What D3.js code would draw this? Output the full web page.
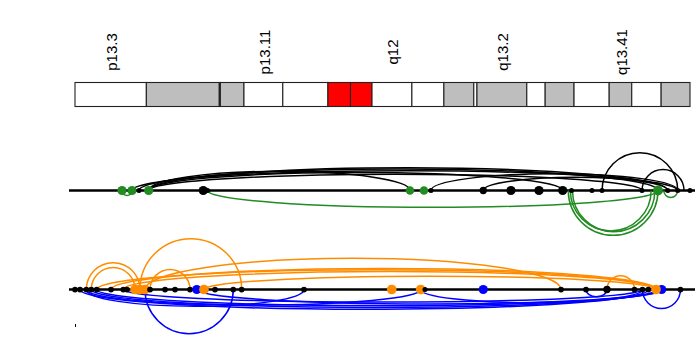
<!DOCTYPE html>
<html>
<head>
<meta charset="utf-8">
<script src="https://cdn.jsdelivr.net/npm/d3@7"></script>
<style>
  body { margin: 0; background: #fff; }
  text { font-family: "Liberation Sans", Arial, sans-serif; }
</style>
</head>
<body>
<svg id="chart" width="695" height="345"></svg>
<script>
// chr19 cytobands (Mb)
var bandNames = ['p13.3', 'p13.2', 'p13.13', 'p13.12', 'p13.11', 'p12', 'p11', 'q11', 'q12',
  'q13.11', 'q13.12', 'q13.13', 'q13.2', 'q13.31', 'q13.32', 'q13.33', 'q13.41', 'q13.42', 'q13.43'];
var bandEnds = [6.8, 13.75, 13.85, 16.1, 19.8, 24.1, 26.25, 28.3, 32.1,
  35.15, 38.0, 38.3, 43.05, 44.8, 47.55, 50.9, 53.05, 55.85, 58.6];
var bandStains = ['gneg', 'gpos', 'gneg', 'gpos', 'gneg', 'gneg', 'acen', 'acen', 'gneg',
  'gneg', 'gpos', 'gneg', 'gpos', 'gneg', 'gpos', 'gneg', 'gpos', 'gneg', 'gpos'];

// track 1 anchors
var track1Pos = [4.48, 5.43, 6.10, 7.02, 12.22, 12.63, 31.92, 33.25, 33.92, 38.90, 41.54,
  44.21, 46.47, 47.31, 49.26, 50.22, 54.03, 55.55, 56.48, 57.43, 58.6];
var track1Kind = ['g', 'g', 'k', 'g', 'k', 'k', 'g', 'g', 'k', 'k', 'k',
  'k', 'k', 'k', 'k', 'k', 'k', 'g', 'k', 'k', 'k'];
var track1Weight = [3, 3, 1.2, 3, 3, 1.2, 2.7, 2.7, 1.2, 2.2, 3,
  3, 3, 1.2, 1.2, 1.2, 1.2, 3.3, 1.2, 1.2, 1.2];

// track 1 loops: [start, end, strength]
var track1Above = [
  [7.02, 31.92, 0.32], [7.02, 46.47, 0.30], [6.10, 55.55, 0.36], [7.02, 56.48, 0.38],
  [5.43, 57.43, 0.33], [7.02, 54.03, 0.27], [33.92, 57.43, 0.28], [38.90, 56.48, 0.22],
  [50.22, 57.43, 1], [54.03, 58.03, 1]
];
var track1Below = [
  [4.48, 5.43, 1], [12.63, 55.55, 0.28], [47.0, 55.55, 1], [47.4, 55.25, 1],
  [47.2, 54.9, 1], [56.1, 57.43, 1]
];

// track 2 anchors
var track2Pos = [0.0, 0.48, 1.08, 1.55, 2.07, 3.43, 4.6, 4.95, 5.72, 6.19, 6.67, 7.15, 8.58,
  9.53, 10.96, 11.6, 12.29, 13.34, 15.08, 15.88, 21.82, 30.18, 32.94, 33.35, 38.9, 46.31,
  48.69, 50.69, 53.31, 54.07, 54.63, 55.9, 55.36, 57.69];
var track2Kind = ['k', 'k', 'k', 'k', 'k', 'k', 'k', 'k', 'o', 'o', 'o', 'k', 'k',
  'k', 'k', 'b', 'o', 'k', 'k', 'k', 'k', 'o', 'o', 'k', 'b', 'k',
  'k', 'k', 'k', 'k', 'k', 'b', 'o', 'k'];
var track2Weight = [1.5, 1.5, 1.5, 1.5, 1.5, 1.5, 1.5, 1.5, 3.2, 3.2, 3.2, 1.5, 1.5,
  1.5, 1.5, 3, 3.2, 1.5, 1.5, 1.5, 1.5, 3.2, 3.2, 1.2, 3, 1.5,
  1.5, 2.2, 1.5, 1.5, 1.5, 3, 3.2, 1.5];

var track2Above = [
  [1.08, 6.19, 1], [1.55, 5.72, 1], [6.19, 15.88, 1], [7.15, 10.96, 1],
  [6.67, 46.31, 0.52], [2.07, 55.36, 0.33], [3.43, 55.36, 0.35], [4.6, 55.36, 0.30],
  [12.29, 55.36, 0.22], [50.69, 53.31, 1]
];
var track2Below = [
  [6.67, 15.08, 1], [1.08, 21.82, 0.28], [1.08, 32.94, 0.26], [32.94, 54.07, 0.22],
  [0.48, 54.63, 0.33], [1.55, 55.36, 0.30], [2.07, 55.9, 0.27], [11.6, 55.9, 0.24],
  [4.6, 54.07, 0.21], [48.69, 50.69, 0.12], [54.07, 57.69, 1]
];

var svg = d3.select('#chart');
var x = d3.scaleLinear().domain([0, 58.6]).range([75, 690]);
var hScale = d3.scaleLinear().domain([0, 1]).range([0, 60]);
var rScale = d3.scaleLinear().domain([1, 3]).range([2.3, 4.6]);

var colors = { k: '#000000', g: '#228B22', o: '#FF8C00', b: '#0000FF' };
var stainFill = { gneg: '#FFFFFF', gpos: '#BEBEBE', acen: '#FF0000' };

function drawIdeogram() {
  var g = svg.append('g');
  var starts = [0].concat(bandEnds.slice(0, -1));

  g.selectAll('rect')
    .data(bandNames)
    .enter()
    .append('rect')
    .attr('x', function(d, i) { return x(starts[i]); })
    .attr('y', 82.5)
    .attr('width', function(d, i) { return x(bandEnds[i]) - x(starts[i]); })
    .attr('height', 24)
    .attr('fill', function(d, i) { return stainFill[bandStains[i]]; })
    .attr('stroke', '#222')
    .attr('stroke-width', 1.1);

  g.selectAll('text')
    .data(bandNames.filter(function(d, i) { return i % 4 === 0; }))
    .enter()
    .append('text')
    .attr('transform', function(d) {
      var i = bandNames.indexOf(d);
      var cx = x((starts[i] + bandEnds[i]) / 2);
      return 'translate(' + (cx + 1) + ',52) rotate(-90)';
    })
    .attr('text-anchor', 'middle')
    .attr('dy', '0.35em')
    .attr('font-size', 15)
    .text(function(d) { return d; });
}

function arcPath(d, up) {
  var x1 = x(d[0]);
  var x2 = x(d[1]);
  var rx = (x2 - x1) / 2;
  var ry = Math.min(rx, hScale(d[2]));
  return 'M' + x1 + ',0 A' + rx + ',' + ry + ' 0 0,' + (up ? 1 : 0) + ' ' + x2 + ',0';
}

function drawTrack(trackOpts) {
  var g = svg.append('g')
    .attr('transform', 'translate(0,' + trackOpts.y + ')');

  g.append('line')
    .attr('x1', 69)
    .attr('x2', 695)
    .attr('stroke', '#000')
    .attr('stroke-width', 2.4);

  g.selectAll('path.up')
    .data(trackOpts.above)
    .enter()
    .append('path')
    .attr('class', 'up')
    .attr('d', function(d) { return arcPath(d, true); })
    .attr('fill', 'none')
    .attr('stroke', trackOpts.upColor)
    .attr('stroke-width', 1.5);

  g.selectAll('path.down')
    .data(trackOpts.below)
    .enter()
    .append('path')
    .attr('class', 'down')
    .attr('d', function(d) { return arcPath(d, false); })
    .attr('fill', 'none')
    .attr('stroke', trackOpts.downColor)
    .attr('stroke-width', 1.5);

  g.selectAll('circle')
    .data(trackOpts.pos)
    .enter()
    .append('circle')
    .attr('cx', function(d) { return x(d); })
    .attr('cy', 0)
    .attr('r', function(d, i) { return rScale(trackOpts.weight[i]); })
    .attr('fill', function(d, i) { return colors[trackOpts.kind[i]]; });
}

drawIdeogram();

drawTrack({
  y: 190.5,
  pos: track1Pos, kind: track1Kind, weight: track1Weight,
  above: track1Above, below: track1Below,
  upColor: colors.k, downColor: colors.g
});

drawTrack({
  y: 289.5,
  pos: track2Pos, kind: track2Kind, weight: track2Weight,
  above: track2Above, below: track2Below,
  upColor: colors.o, downColor: colors.b
});

// leftover axis tick at the origin
var axis = svg.append('g')
  .attr('transform', 'translate(0,324)')
  .call(d3.axisBottom(x).tickValues([0]).tickFormat('').tickSize(3));
axis.select('.domain').remove();
</script>
</body>
</html>
